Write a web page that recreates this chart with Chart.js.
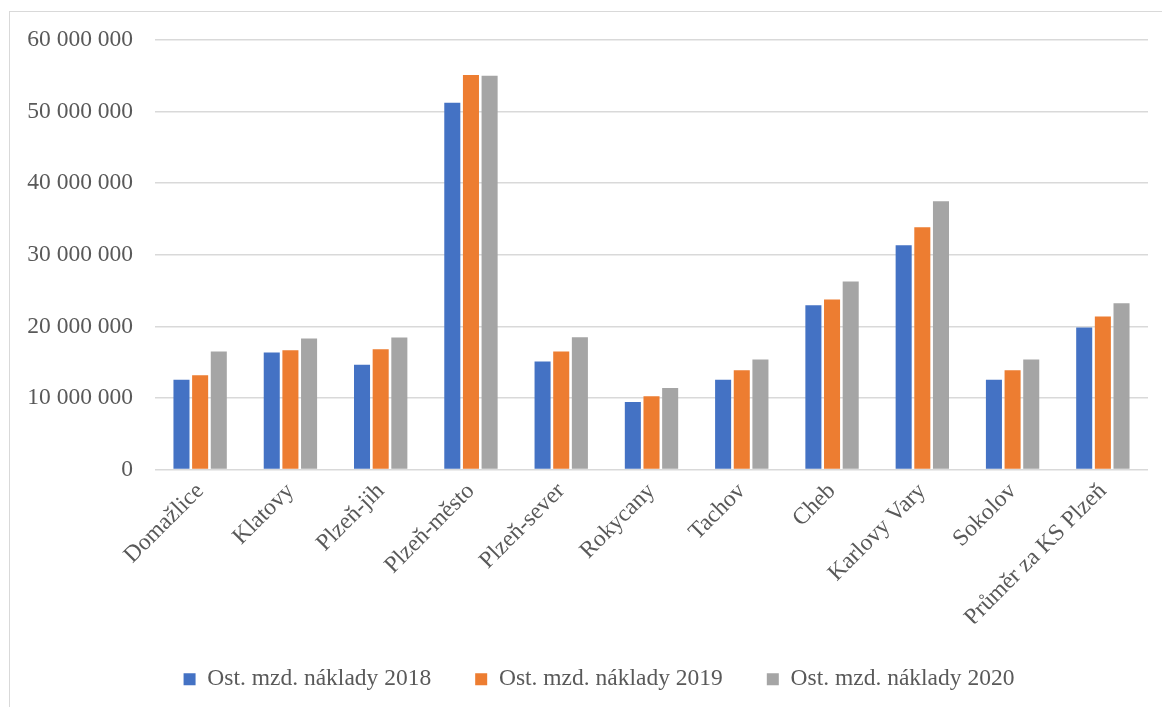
<!DOCTYPE html>
<html lang="cs">
<head>
  <meta charset="UTF-8" />
  <title>Ost. mzd. náklady</title>
  <script src="https://cdn.jsdelivr.net/npm/chart.js"></script>
  <style>
    html, body { margin: 0; padding: 0; background: #fff; }
    .frame {
      position: absolute; left: 9px; top: 11px;
      width: 1200px; height: 720px;
      border: 1px solid #d9d9d9;
    }
    .wrap { position: absolute; left: 0; top: 0; width: 1162px; height: 707px; }
  </style>
</head>
<body>
  <div class="frame"></div>
  <div class="wrap"><canvas id="chart"></canvas></div>

  <script>
    const categories = ['Domažlice', 'Klatovy', 'Plzeň-jih', 'Plzeň-město', 'Plzeň-sever',
      'Rokycany', 'Tachov', 'Cheb', 'Karlovy Vary', 'Sokolov', 'Průměr za KS Plzeň'];

    const costs2018 = [12550000, 16330000, 14650000, 51240000, 15070000,
      9430000, 12550000, 22960000, 31310000, 12550000, 19830000];
    const costs2019 = [13160000, 16660000, 16800000, 55110000, 16470000,
      10220000, 13860000, 23750000, 33830000, 13860000, 21370000];
    const costs2020 = [16470000, 18290000, 18430000, 55020000, 18480000,
      11390000, 15350000, 26270000, 37470000, 15350000, 23240000];

    const yTicks = [0, 10000000, 20000000, 30000000, 40000000, 50000000, 60000000];

    const fmt = v => String(v).replace(/\B(?=(\d{3})+(?!\d))/g, ' ');
    const font = { family: "'Liberation Serif', 'Times New Roman', serif", size: 23.5 };
    const textColor = '#595959';

    // legend in the original sits a bit right of centre
    const shiftLegend = {
      id: 'shiftLegend',
      afterLayout(chart) { chart.legend.left += 50; }
    };

    new Chart(document.getElementById('chart'), {
      type: 'bar',
      data: {
        labels: categories,
        datasets: [
          { label: 'Ost. mzd. náklady 2018', data: costs2018, backgroundColor: '#4472C4' },
          { label: 'Ost. mzd. náklady 2019', data: costs2019, backgroundColor: '#ED7D31' },
          { label: 'Ost. mzd. náklady 2020', data: costs2020, backgroundColor: '#A5A5A5' }
        ]
      },
      options: {
        responsive: true,
        maintainAspectRatio: false,
        animation: false,
        datasets: { bar: { categoryPercentage: 0.62, barPercentage: 0.86 } },
        layout: { padding: { left: 0, right: 14, top: 40, bottom: 6 } },
        plugins: {
          tooltip: { enabled: false },
          legend: {
            position: 'bottom',
            labels: {
              font: font, color: textColor,
              boxWidth: 12, boxHeight: 12, padding: 44
            }
          }
        },
        scales: {
          x: {
            grid: { display: false },
            border: { display: false },
            ticks: { font: font, color: textColor, minRotation: 45, maxRotation: 45, padding: 0 },
            afterFit: s => { s.height = 154; }
          },
          y: {
            min: 0, max: 60000000,
            afterBuildTicks: s => { s.ticks = yTicks.map(v => ({ value: v })); },
            grid: { color: '#d9d9d9', lineWidth: 1.5, drawTicks: false },
            border: { display: false },
            ticks: { font: font, color: textColor, padding: 22, callback: v => fmt(v) },
            afterFit: s => { s.width = 155; }
          }
        }
      },
      plugins: [shiftLegend]
    });
  </script>
</body>
</html>
